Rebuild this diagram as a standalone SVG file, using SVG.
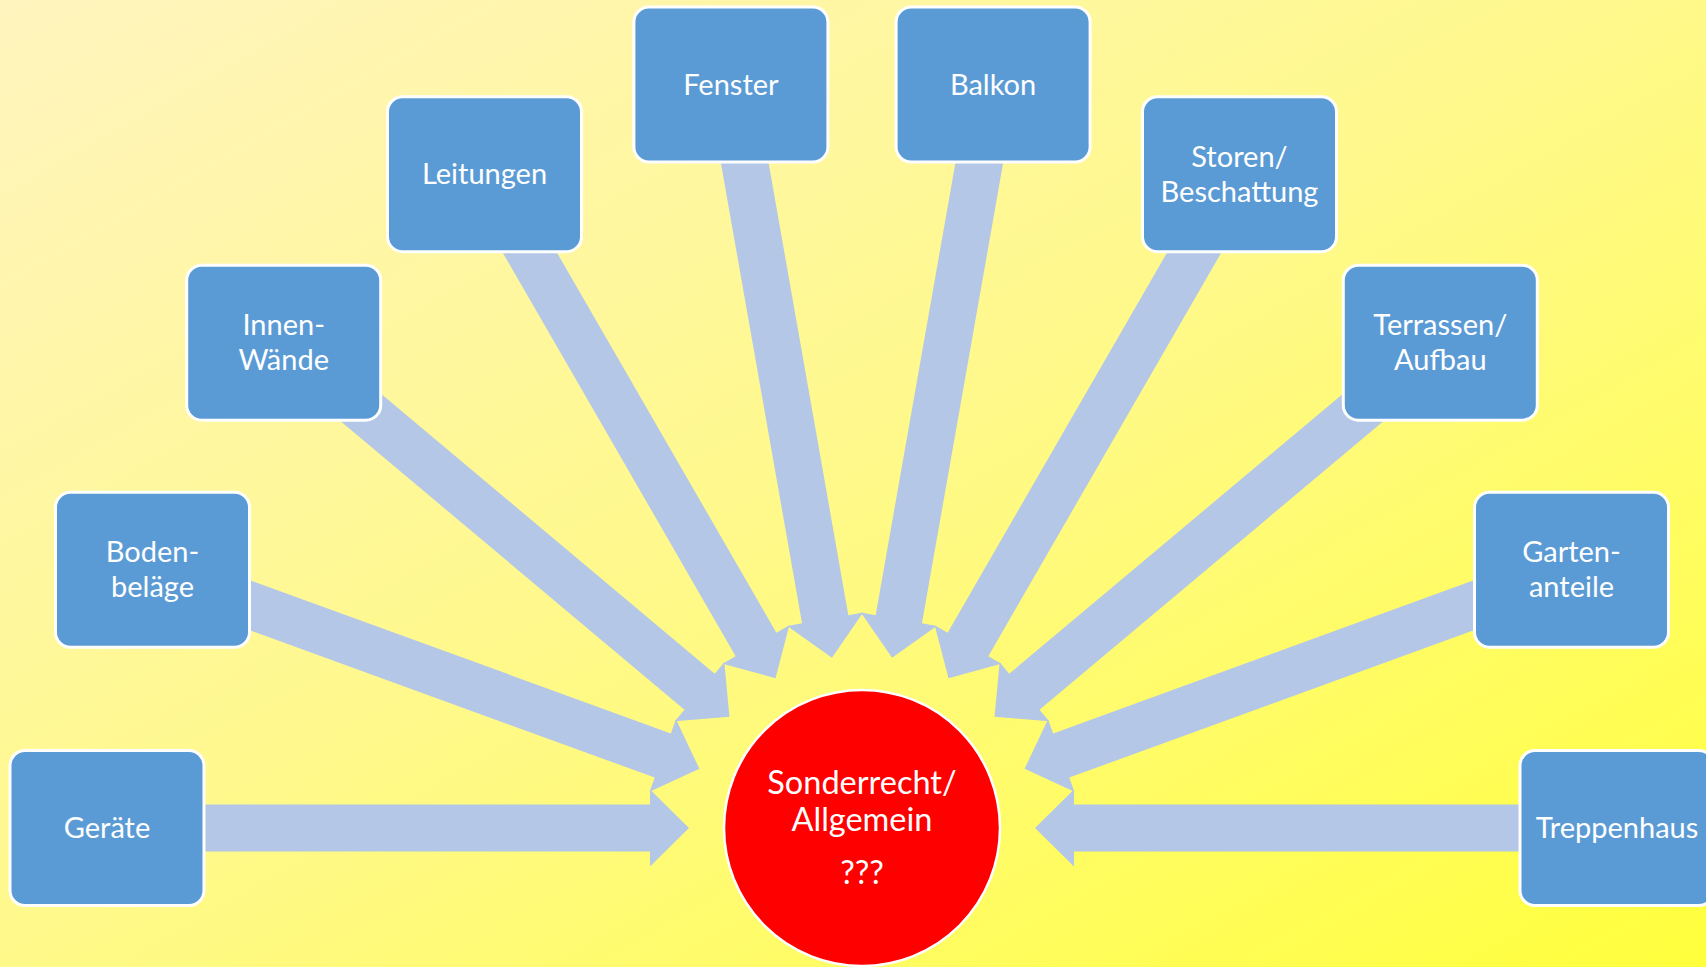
<svg xmlns="http://www.w3.org/2000/svg" width="1706" height="967" viewBox="0 0 1706 967">
  <defs>
    <linearGradient id="bg" x1="0" y1="0" x2="1" y2="1">
      <stop offset="0" stop-color="#FFF4BE"/>
      <stop offset="0.5" stop-color="#FFF98A"/>
      <stop offset="1" stop-color="#FFFF3C"/>
    </linearGradient>
    <polygon id="arr" points="755,-23.5 212,-23.5 212,-38.5 173,0 212,38.5 212,23.5 755,23.5"/>
    <style>
      .arrow { fill: #B4C7E7; }
      .box { fill: #5B9BD5; stroke: #FFFFFF; stroke-width: 3; }
      .lbl { fill: #FFFFFF; font-family: Lato, "Open Sans", "Liberation Sans", sans-serif; font-size: 29px; text-anchor: middle; }
      .hub { fill: #FF0000; stroke: #FFFFFF; stroke-width: 2.5; }
      .hubl { fill: #FFFFFF; font-family: Lato, "Open Sans", "Liberation Sans", sans-serif; font-size: 32.5px; text-anchor: middle; }
    </style>
  </defs>
  <rect x="0" y="0" width="1706" height="967" fill="url(#bg)"/>

  <g id="connectors" transform="translate(862 828)">
    <use href="#arr" class="arrow" transform="rotate(180)"/>
    <use href="#arr" class="arrow" transform="rotate(200)"/>
    <use href="#arr" class="arrow" transform="rotate(220)"/>
    <use href="#arr" class="arrow" transform="rotate(240)"/>
    <use href="#arr" class="arrow" transform="rotate(260)"/>
    <use href="#arr" class="arrow" transform="rotate(280)"/>
    <use href="#arr" class="arrow" transform="rotate(300)"/>
    <use href="#arr" class="arrow" transform="rotate(320)"/>
    <use href="#arr" class="arrow" transform="rotate(340)"/>
    <use href="#arr" class="arrow" transform="rotate(360)"/>
  </g>

  <g id="node-geraete">
    <rect class="box" x="10" y="750.5" width="194" height="155" rx="15"/>
    <text class="lbl" x="107" y="838">Geräte</text>
  </g>
  <g id="node-bodenbelaege">
    <rect class="box" x="55.5" y="492.3" width="194" height="155" rx="15"/>
    <text class="lbl" x="152.5" y="562">Boden-</text>
    <text class="lbl" x="152.5" y="597">beläge</text>
  </g>
  <g id="node-innenwaende">
    <rect class="box" x="186.7" y="265.2" width="194" height="155" rx="15"/>
    <text class="lbl" x="283.7" y="335">Innen-</text>
    <text class="lbl" x="283.7" y="370">Wände</text>
  </g>
  <g id="node-leitungen">
    <rect class="box" x="387.5" y="96.7" width="194" height="155" rx="15"/>
    <text class="lbl" x="484.5" y="184">Leitungen</text>
  </g>
  <g id="node-fenster">
    <rect class="box" x="633.9" y="7" width="194" height="155" rx="15"/>
    <text class="lbl" x="730.9" y="94.5">Fenster</text>
  </g>
  <g id="node-balkon">
    <rect class="box" x="896.1" y="7" width="194" height="155" rx="15"/>
    <text class="lbl" x="993.1" y="94.5">Balkon</text>
  </g>
  <g id="node-storen">
    <rect class="box" x="1142.5" y="96.7" width="194" height="155" rx="15"/>
    <text class="lbl" x="1239.5" y="166.5">Storen/</text>
    <text class="lbl" x="1239.5" y="201.5">Beschattung</text>
  </g>
  <g id="node-terrassen">
    <rect class="box" x="1343.3" y="265.2" width="194" height="155" rx="15"/>
    <text class="lbl" x="1440.3" y="335">Terrassen/</text>
    <text class="lbl" x="1440.3" y="370">Aufbau</text>
  </g>
  <g id="node-gartenanteile">
    <rect class="box" x="1474.5" y="492.3" width="194" height="155" rx="15"/>
    <text class="lbl" x="1571.5" y="562">Garten-</text>
    <text class="lbl" x="1571.5" y="597">anteile</text>
  </g>
  <g id="node-treppenhaus">
    <rect class="box" x="1520" y="750.5" width="194" height="155" rx="15"/>
    <text class="lbl" x="1617" y="838">Treppenhaus</text>
  </g>

  <g id="node-center">
    <circle class="hub" cx="862" cy="828" r="138"/>
    <text class="hubl" x="862" y="794">Sonderrecht/</text>
    <text class="hubl" x="862" y="831">Allgemein</text>
    <text class="hubl" x="862" y="884">???</text>
  </g>
</svg>
